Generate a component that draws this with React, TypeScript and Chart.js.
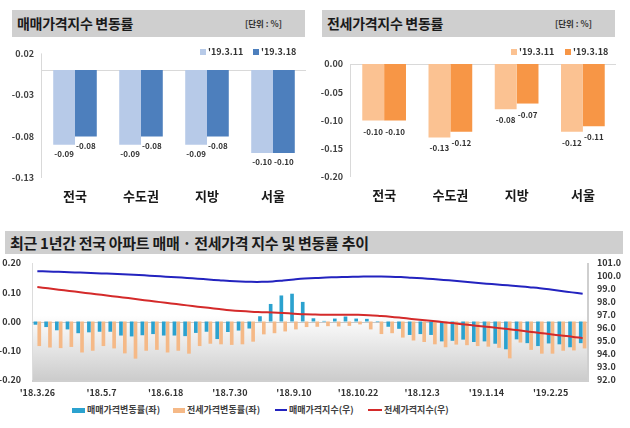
import React, { useEffect, useRef } from "react";
import { Chart, registerables } from "chart.js";

Chart.register(...registerables);

const FONT = "'Noto Sans CJK KR', 'Noto Sans', sans-serif";

// ---------- top charts ----------
const regions = ["전국", "수도권", "지방", "서울"];
const legendDates = ["'19.3.11", "'19.3.18"];
const saleChange0311 = [-0.09, -0.09, -0.09, -0.1];
const saleChange0318 = [-0.08, -0.08, -0.08, -0.1];
const jeonseChange0311 = [-0.1, -0.13, -0.08, -0.12];
const jeonseChange0318 = [-0.1, -0.12, -0.07, -0.11];
const saleTicks = [-0.13, -0.08, -0.03, 0.02];
const jeonseTicks = [-0.2, -0.15, -0.1, -0.05, 0.0];

// ---------- bottom chart (weekly) ----------
const weeks = [
  "'18.3.26", "'18.4.2", "'18.4.9", "'18.4.16", "'18.4.23", "'18.4.30",
  "'18.5.7", "'18.5.14", "'18.5.21", "'18.5.28", "'18.6.4", "'18.6.11",
  "'18.6.18", "'18.6.25", "'18.7.2", "'18.7.9", "'18.7.16", "'18.7.23",
  "'18.7.30", "'18.8.6", "'18.8.13", "'18.8.20", "'18.8.27", "'18.9.3",
  "'18.9.10", "'18.9.17", "'18.9.24", "'18.10.1", "'18.10.8", "'18.10.15",
  "'18.10.22", "'18.10.29", "'18.11.5", "'18.11.12", "'18.11.19", "'18.11.26",
  "'18.12.3", "'18.12.10", "'18.12.17", "'18.12.24", "'18.12.31", "'19.1.7",
  "'19.1.14", "'19.1.21", "'19.1.28", "'19.2.4", "'19.2.11", "'19.2.18",
  "'19.2.25", "'19.3.4", "'19.3.11", "'19.3.18",
];
const saleWeekly = [
  -0.011, -0.019, -0.03, -0.027, -0.04, -0.037, -0.035, -0.035, -0.048, -0.051,
  -0.047, -0.043, -0.048, -0.048, -0.05, -0.039, -0.035, -0.06, -0.036, -0.031,
  -0.024, 0.018, 0.06, 0.089, 0.095, 0.067, 0.011, 0.002, 0.01, 0.017,
  0.01, 0.009, -0.002, -0.018, -0.025, -0.046, -0.043, -0.046, -0.068, -0.066,
  -0.062, -0.07, -0.068, -0.076, -0.095, -0.061, -0.074, -0.084, -0.075, -0.078,
  -0.088, -0.074,
];
const jeonseWeekly = [
  -0.084, -0.089, -0.091, -0.087, -0.106, -0.1, -0.084, -0.092, -0.109, -0.127,
  -0.1, -0.097, -0.106, -0.1, -0.11, -0.084, -0.076, -0.078, -0.08, -0.078,
  -0.069, -0.044, -0.04, -0.034, -0.027, -0.019, -0.018, -0.016, -0.017, -0.015,
  -0.01, -0.027, -0.043, -0.04, -0.055, -0.065, -0.07, -0.078, -0.088, -0.079,
  -0.081, -0.084, -0.086, -0.09, -0.126, -0.072, -0.097, -0.11, -0.11, -0.1,
  -0.099, -0.092,
];
const saleIndex = [
  100.37, 100.35, 100.32, 100.29, 100.26, 100.23, 100.2, 100.17, 100.13, 100.09,
  100.05, 100.0, 99.95, 99.9, 99.85, 99.79, 99.73, 99.67, 99.61, 99.57,
  99.55, 99.55, 99.58, 99.65, 99.73, 99.8, 99.85, 99.88, 99.91, 99.93,
  99.95, 99.96, 99.96, 99.95, 99.92, 99.87, 99.82, 99.76, 99.7, 99.63,
  99.56, 99.48, 99.41, 99.35, 99.28, 99.22, 99.14, 99.06, 98.96, 98.85,
  98.74, 98.63,
];
const jeonseIndex = [
  99.15, 99.05, 98.95, 98.85, 98.75, 98.65, 98.55, 98.45, 98.35, 98.25,
  98.14, 98.04, 97.94, 97.84, 97.74, 97.64, 97.55, 97.46, 97.37, 97.3,
  97.25, 97.22, 97.19, 97.15, 97.1, 97.05, 97.03, 97.02, 97.02, 97.02,
  97.01, 96.98, 96.93, 96.87, 96.79, 96.7, 96.61, 96.53, 96.45, 96.36,
  96.27, 96.18, 96.1, 96.01, 95.92, 95.82, 95.72, 95.62, 95.52, 95.42,
  95.33, 95.22,
];
const bottomLegend = ["매매가격변동률(좌)", "전세가격변동률(좌)", "매매가격지수(우)", "전세가격지수(우)"];

const C = {
  saleLight: "#b7cae8",
  saleDark: "#4d7fbd",
  jeonseLight: "#fbc292",
  jeonseDark: "#f79646",
  barBlue: "#2ba2cf",
  barOrange: "#f5b987",
  lineBlue: "#2323bf",
  lineRed: "#d42a2a",
};

const barDecor = {
  id: "barDecor",
  beforeDatasetsDraw(chart: any) {
    const { ctx, chartArea: a, scales } = chart;
    const y = scales.y;
    ctx.save();
    ctx.strokeStyle = "#d9d9d9";
    ctx.lineWidth = 1;
    const y0 = Math.round(y.getPixelForValue(0)) + 0.5;
    ctx.beginPath();
    ctx.moveTo(a.left, y0);
    ctx.lineTo(a.right, y0);
    ctx.stroke();
    ctx.beginPath();
    ctx.moveTo(a.left - 0.5, a.top);
    ctx.lineTo(a.left - 0.5, a.bottom);
    ctx.stroke();
    ctx.restore();
  },
  afterDatasetsDraw(chart: any, _args: any, opts: any) {
    const { ctx } = chart;
    ctx.save();
    ctx.fillStyle = "#333";
    ctx.font = `bold 8px ${FONT}`;
    ctx.textAlign = "center";
    ctx.textBaseline = "middle";
    chart.data.datasets.forEach((ds: any, di: number) => {
      chart.getDatasetMeta(di).data.forEach((el: any, i: number) => {
        ctx.fillText(Number(ds.data[i]).toFixed(2), el.x, el.y + (opts.offset || 9));
      });
    });
    ctx.restore();
  },
};

const areaDecor = {
  id: "areaDecor",
  beforeDatasetsDraw(chart: any) {
    const { ctx, chartArea: a, scales } = chart;
    ctx.save();
    const g = ctx.createLinearGradient(0, a.top, 0, a.bottom);
    g.addColorStop(0, "#ffffff");
    g.addColorStop(0.45, "#ffffff");
    g.addColorStop(1, "#cccccc");
    ctx.fillStyle = g;
    ctx.fillRect(a.left, a.top, a.right - a.left, a.bottom - a.top);
    ctx.strokeStyle = "#dcdcdc";
    ctx.lineWidth = 1;
    ctx.beginPath();
    ctx.moveTo(a.left + 0.5, a.top);
    ctx.lineTo(a.left + 0.5, a.bottom);
    ctx.stroke();
    ctx.strokeStyle = "#cfcfcf";
    ctx.lineWidth = 2;
    ctx.beginPath();
    ctx.moveTo(a.right, a.top);
    ctx.lineTo(a.right, a.bottom + 1);
    ctx.lineTo(a.left, a.bottom + 1);
    ctx.stroke();
    const y0 = Math.round(scales.y.getPixelForValue(0)) + 0.5;
    ctx.strokeStyle = "#c8c8c8";
    ctx.lineWidth = 1;
    ctx.beginPath();
    ctx.moveTo(a.left, y0);
    ctx.lineTo(a.right, y0);
    ctx.stroke();
    ctx.restore();
  },
};

function topConfig(
  d1: number[], d2: number[], c1: string, c2: string, ticks: number[],
  min: number, max: number, padTop: number, padRight: number,
  yWidth: number, xHeight: number, labelOffset: number
): any {
  return {
    type: "bar",
    data: {
      labels: regions,
      datasets: [
        { label: legendDates[0], data: d1, backgroundColor: c1, categoryPercentage: 0.66, barPercentage: 1 },
        { label: legendDates[1], data: d2, backgroundColor: c2, categoryPercentage: 0.66, barPercentage: 1 },
      ],
    },
    options: {
      responsive: false,
      animation: false,
      devicePixelRatio: 1,
      layout: { padding: { top: padTop, right: padRight, left: 0, bottom: 0 } },
      plugins: { legend: { display: false }, tooltip: { enabled: false }, barDecor: { offset: labelOffset } },
      scales: {
        x: {
          grid: { display: false, drawTicks: false },
          border: { display: false },
          ticks: { color: "#1a1a1a", font: { family: FONT, size: 13, weight: "bold" }, padding: 10 },
          afterFit: (s: any) => { s.height = xHeight; },
        },
        y: {
          min, max,
          grid: { display: false, drawTicks: false },
          border: { display: false },
          afterBuildTicks: (s: any) => { s.ticks = ticks.map((v) => ({ value: v })); },
          afterFit: (s: any) => { s.width = yWidth; },
          ticks: {
            padding: 8, color: "#404040",
            font: { family: FONT, size: 9, weight: "bold" },
            callback: (v: any) => Number(v).toFixed(2),
          },
        },
      },
    },
    plugins: [barDecor],
  };
}

function bottomConfig(): any {
  return {
    type: "bar",
    data: {
      labels: weeks,
      datasets: [
        { type: "line", label: bottomLegend[2], data: saleIndex, yAxisID: "y2", borderColor: C.lineBlue, borderWidth: 2, pointRadius: 0, tension: 0.4, order: 0 },
        { type: "line", label: bottomLegend[3], data: jeonseIndex, yAxisID: "y2", borderColor: C.lineRed, borderWidth: 2, pointRadius: 0, tension: 0.4, order: 0 },
        { type: "bar", label: bottomLegend[0], data: saleWeekly, yAxisID: "y", backgroundColor: C.barBlue, categoryPercentage: 0.72, barPercentage: 0.95, order: 1 },
        { type: "bar", label: bottomLegend[1], data: jeonseWeekly, yAxisID: "y", backgroundColor: C.barOrange, categoryPercentage: 0.72, barPercentage: 0.95, order: 1 },
      ],
    },
    options: {
      responsive: false,
      animation: false,
      devicePixelRatio: 1,
      layout: { padding: { top: 8, right: 0, left: 0, bottom: 0 } },
      plugins: { legend: { display: false }, tooltip: { enabled: false } },
      scales: {
        x: {
          grid: { display: false, drawTicks: false },
          border: { display: false },
          ticks: {
            autoSkip: false, maxRotation: 0, minRotation: 0, padding: 7,
            color: "#333", font: { family: FONT, size: 9, weight: "bold" },
            callback: (_v: any, i: number) => (i % 6 === 0 ? weeks[i] : ""),
          },
          afterFit: (s: any) => { s.height = 20; s.paddingLeft = 0; s.paddingRight = 0; },
        },
        y: {
          position: "left", min: -0.2, max: 0.2,
          grid: { display: false, drawTicks: false },
          border: { display: false },
          ticks: { stepSize: 0.1, autoSkip: false, padding: 11, color: "#333", font: { family: FONT, size: 9, weight: "bold" }, callback: (v: any) => Number(v).toFixed(2) },
          afterFit: (s: any) => { s.width = 32; s.paddingTop = 0; s.paddingBottom = 0; },
        },
        y2: {
          position: "right", min: 92, max: 101,
          grid: { display: false, drawTicks: false },
          border: { display: false },
          ticks: { stepSize: 1, autoSkip: false, padding: 9, color: "#333", font: { family: FONT, size: 9, weight: "bold" }, callback: (v: any) => Number(v).toFixed(1) },
          afterFit: (s: any) => { s.width = 42; s.paddingTop = 0; s.paddingBottom = 0; },
        },
      },
    },
    plugins: [areaDecor],
  };
}

function ChartBox(props: { left: number; top: number; width: number; height: number; make: () => any }) {
  const ref = useRef<HTMLCanvasElement>(null);
  useEffect(() => {
    const chart = new Chart(ref.current as HTMLCanvasElement, props.make());
    return () => chart.destroy();
  }, []);
  return (
    <canvas
      ref={ref}
      width={props.width}
      height={props.height}
      style={{ position: "absolute", left: props.left, top: props.top, width: props.width, height: props.height, display: "block" }}
    />
  );
}

const abs = (l: number, t: number, extra: any = {}) => ({ position: "absolute" as const, left: l, top: t, ...extra });

function TitleBar(props: { left: number; top: number; width: number; height: number; text: string; size: number; unit?: boolean }) {
  return (
    <div style={abs(props.left, props.top, { width: props.width, height: props.height, background: "#cfcfcf" })}>
      <div style={abs(5, 0, { height: props.height, lineHeight: props.height + "px", fontSize: props.size, fontWeight: 700, color: "#1a1a1a", whiteSpace: "nowrap", letterSpacing: "-0.3px" })}>
        {props.text}
      </div>
      {props.unit ? (
        <div style={abs(props.width - 60, 0, { height: props.height, lineHeight: props.height + "px", fontSize: 8.5, fontWeight: 700, color: "#333", whiteSpace: "nowrap" })}>
          [단위 : %]
        </div>
      ) : null}
    </div>
  );
}

function LegendSq(props: { left: number; top: number; color: string; text: string }) {
  return (
    <>
      <div style={abs(props.left, props.top - 3, { width: 6, height: 6, background: props.color })} />
      <div style={abs(props.left + 8, props.top - 7, { fontSize: 9, lineHeight: "14px", fontWeight: 700, color: "#333", whiteSpace: "nowrap" })}>{props.text}</div>
    </>
  );
}

function LegendItem(props: { left: number; top: number; color: string; w: number; h: number; text: string }) {
  return (
    <>
      <div style={abs(props.left, props.top - props.h / 2, { width: props.w, height: props.h, background: props.color })} />
      <div style={abs(props.left + props.w + 2, props.top - 7, { fontSize: 9, lineHeight: "14px", fontWeight: 700, color: "#404040", whiteSpace: "nowrap" })}>{props.text}</div>
    </>
  );
}

export default function App() {
  return (
    <div style={{ position: "absolute", left: 0, top: 0, width: 630, height: 428, background: "#fff", fontFamily: FONT, overflow: "hidden" }}>
      <TitleBar left={12} top={10} width={293} height={27} text="매매가격지수 변동률" size={14} unit />
      <TitleBar left={322} top={10} width={293} height={27} text="전세가격지수 변동률" size={14} unit />
      <TitleBar left={5} top={231} width={618} height={23} text="최근 1년간 전국 아파트 매매 · 전세가격 지수 및 변동률 추이" size={15} />

      <ChartBox left={0} top={40} width={310} height={170}
        make={() => topConfig(saleChange0311, saleChange0318, C.saleLight, C.saleDark, saleTicks, -0.13, 0.02, 12, 4, 42, 32, 9)} />
      <ChartBox left={310} top={40} width={320} height={170}
        make={() => topConfig(jeonseChange0311, jeonseChange0318, C.jeonseLight, C.jeonseDark, jeonseTicks, -0.2, 0, 24, 14, 41, 33, 11)} />
      <ChartBox left={0} top={255} width={630} height={145} make={bottomConfig} />

      <LegendSq left={200} top={52} color={C.saleLight} text={legendDates[0]} />
      <LegendSq left={253} top={52} color={C.saleDark} text={legendDates[1]} />
      <LegendSq left={511} top={52} color={C.jeonseLight} text={legendDates[0]} />
      <LegendSq left={565} top={52} color={C.jeonseDark} text={legendDates[1]} />

      <LegendItem left={72} top={410} color={C.barBlue} w={13} h={5} text={bottomLegend[0]} />
      <LegendItem left={173} top={410} color={C.barOrange} w={12} h={5} text={bottomLegend[1]} />
      <LegendItem left={275} top={410} color={C.lineBlue} w={12} h={2} text={bottomLegend[2]} />
      <LegendItem left={368} top={410} color={C.lineRed} w={14} h={2} text={bottomLegend[3]} />
    </div>
  );
}
